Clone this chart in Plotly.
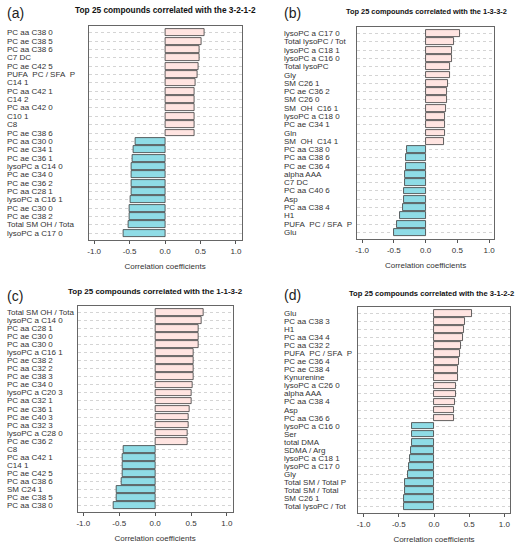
import plotly.graph_objects as go

# panel (a) 3-2-1-2
names_a = ["PC aa C38 0", "PC ae C38 5", "PC aa C38 6", "C7 DC", "PC ae C42 5",
           "PUFA  PC / SFA  P", "C14 1", "PC aa C42 1", "C14 2", "PC aa C42 0",
           "C10 1", "C8", "PC ae C38 6", "PC aa C30 0", "PC ae C34 1",
           "PC ae C36 1", "lysoPC a C14 0", "PC ae C34 0", "PC ae C36 2", "PC aa C28 1",
           "lysoPC a C16 1", "PC ae C30 0", "PC ae C38 2", "Total SM OH / Tota", "lysoPC a C17 0"]
vals_a = [0.56, 0.52, 0.49, 0.49, 0.47, 0.46, 0.43, 0.42, 0.42, 0.42, 0.41, 0.41, 0.41,
          -0.42, -0.44, -0.46, -0.47, -0.47, -0.48, -0.48, -0.49, -0.50, -0.50, -0.51, -0.58]

# panel (b) 1-3-3-2
names_b = ["lysoPC a C17 0", "Total lysoPC / Tot", "lysoPC a C18 1", "lysoPC a C16 0", "Total lysoPC",
           "Gly", "SM C26 1", "PC ae C36 2", "SM C26 0", "SM  OH  C16 1",
           "lysoPC a C18 0", "PC ae C34 1", "Gln", "SM  OH  C14 1", "PC aa C38 0",
           "PC aa C38 6", "PC ae C36 4", "alpha AAA", "C7 DC", "PC aa C40 6",
           "Asp", "PC aa C38 4", "H1", "PUFA  PC / SFA  P", "Glu"]
vals_b = [0.54, 0.45, 0.42, 0.41, 0.39, 0.38, 0.36, 0.34, 0.34, 0.32, 0.31, 0.31, 0.31, 0.29,
          -0.30, -0.31, -0.31, -0.32, -0.32, -0.34, -0.34, -0.35, -0.41, -0.45, -0.49]

# panel (c) 1-1-3-2
names_c = ["Total SM OH / Tota", "lysoPC a C14 0", "PC aa C28 1", "PC ae C30 0", "PC aa C30 0",
           "lysoPC a C16 1", "PC ae C38 2", "PC aa C32 2", "PC ae C38 3", "PC ae C34 0",
           "lysoPC a C20 3", "PC aa C32 1", "PC ae C36 1", "PC ae C40 3", "PC aa C32 3",
           "lysoPC a C28 0", "PC ae C36 2", "C8", "PC aa C42 1", "C14 1",
           "PC ae C42 5", "PC aa C38 6", "SM C24 1", "PC ae C38 5", "PC aa C38 0"]
vals_c = [0.68, 0.65, 0.61, 0.61, 0.60, 0.54, 0.54, 0.53, 0.53, 0.52, 0.51, 0.51, 0.48,
          0.47, 0.46, 0.45, 0.45, -0.44, -0.45, -0.46, -0.46, -0.47, -0.53, -0.53, -0.58]

# panel (d) 3-1-2-2
names_d = ["Glu", "PC aa C38 3", "H1", "PC aa C34 4", "PC aa C32 2",
           "PUFA  PC / SFA  P", "PC ae C36 4", "PC ae C38 4", "Kynurenine", "lysoPC a C26 0",
           "alpha AAA", "PC aa C38 4", "Asp", "PC aa C36 6", "lysoPC a C16 0",
           "Ser", "total DMA", "SDMA / Arg", "lysoPC a C18 1", "lysoPC a C17 0",
           "Gly", "Total SM / Total P", "Total SM / Total", "SM C26 1", "Total lysoPC / Tot"]
vals_d = [0.54, 0.44, 0.43, 0.41, 0.38, 0.37, 0.36, 0.34, 0.34, 0.31, 0.31, 0.30, 0.28, 0.28,
          -0.31, -0.31, -0.32, -0.33, -0.34, -0.35, -0.37, -0.41, -0.41, -0.42, -0.43]

titles = ["Top 25 compounds correlated with the 3-2-1-2",
          "Top 25 compounds correlated with the 1-3-3-2",
          "Top 25 compounds correlated with the 1-1-3-2",
          "Top 25 compounds correlated with the 3-1-2-2"]
tags = ["(a)", "(b)", "(c)", "(d)"]

W, H = 522, 550
POS = "#FFE4E1"
NEG = "#8FDCE6"

panels = [
    # names, vals, box x0,x1,ytop,ybottom px, label x, title center x, title y, title size, tag x, tag y
    (names_a, vals_a, 87, 241, 26, 240, 3, 164, 10, 8.3, 3, 13),
    (names_b, vals_b, 357, 495, 27, 239, 282, 427, 11, 7.4, 282, 13),
    (names_c, vals_c, 76, 232, 306, 512, 3, 154, 291, 8.0, 3, 296),
    (names_d, vals_d, 358, 511, 307, 513, 282, 432, 293, 7.6, 282, 295),
]

fig = go.Figure()
annotations = []
layout = {}
for k, (names, vals, x0, x1, yt, yb, lx, tx, ty, ts, gx, gy) in enumerate(panels):
    sfx = "" if k == 0 else str(k + 1)
    idx = list(range(len(vals)))
    fig.add_trace(go.Bar(
        x=vals, y=idx, orientation="h", width=0.83,
        marker=dict(color=[POS if v > 0 else NEG for v in vals],
                    line=dict(color="#3a3a3a", width=0.8)),
        xaxis="x" + sfx, yaxis="y" + sfx, showlegend=False, hoverinfo="x+text",
        text=names, textposition="none"))
    layout["xaxis" + sfx] = dict(
        domain=[x0 / W, x1 / W], anchor="y" + sfx, range=[-1.08, 1.08],
        tickvals=[-1, -0.5, 0, 0.5, 1], ticktext=["-1.0", "-0.5", "0.0", "0.5", "1.0"],
        ticks="outside", ticklen=3, tickcolor="#555", showgrid=False, zeroline=False,
        showline=True, mirror=True, linecolor="#666", linewidth=1,
        tickfont=dict(size=8, color="#333"),
        title=dict(text="Correlation coefficients", font=dict(size=8, color="#333"), standoff=8))
    layout["yaxis" + sfx] = dict(
        domain=[1 - yb / H, 1 - yt / H], anchor="x" + sfx, range=[24.8, -0.8],
        tickvals=idx, showticklabels=False, ticks="", showgrid=True, griddash="dot",
        gridcolor="#d4d4d4", gridwidth=0.7, zeroline=False,
        showline=True, mirror=True, linecolor="#666", linewidth=1)
    for i, n in enumerate(names):
        annotations.append(dict(
            text=n.replace("  ", "\u00a0\u00a0"), x=lx / W, xref="paper", y=i, yref="y" + sfx,
            xanchor="left", yanchor="middle", showarrow=False,
            font=dict(size=8, color="#333")))
    annotations.append(dict(
        text="<b>" + titles[k] + "</b>", x=tx / W, y=1 - ty / H, xref="paper", yref="paper",
        xanchor="center", yanchor="middle", showarrow=False, font=dict(size=ts, color="#111")))
    annotations.append(dict(
        text=tags[k], x=gx / W, y=1 - gy / H, xref="paper", yref="paper",
        xanchor="left", yanchor="middle", showarrow=False, font=dict(size=14, color="#222")))

fig.update_layout(
    width=W, height=H, margin=dict(l=0, r=0, t=0, b=0),
    paper_bgcolor="white", plot_bgcolor="white",
    font=dict(family="Liberation Sans, Arial, sans-serif"),
    annotations=annotations, bargap=0, **layout)

fig.write_html("out.html", config={"displayModeBar": False},
               post_script="document.body.style.margin='0';")
